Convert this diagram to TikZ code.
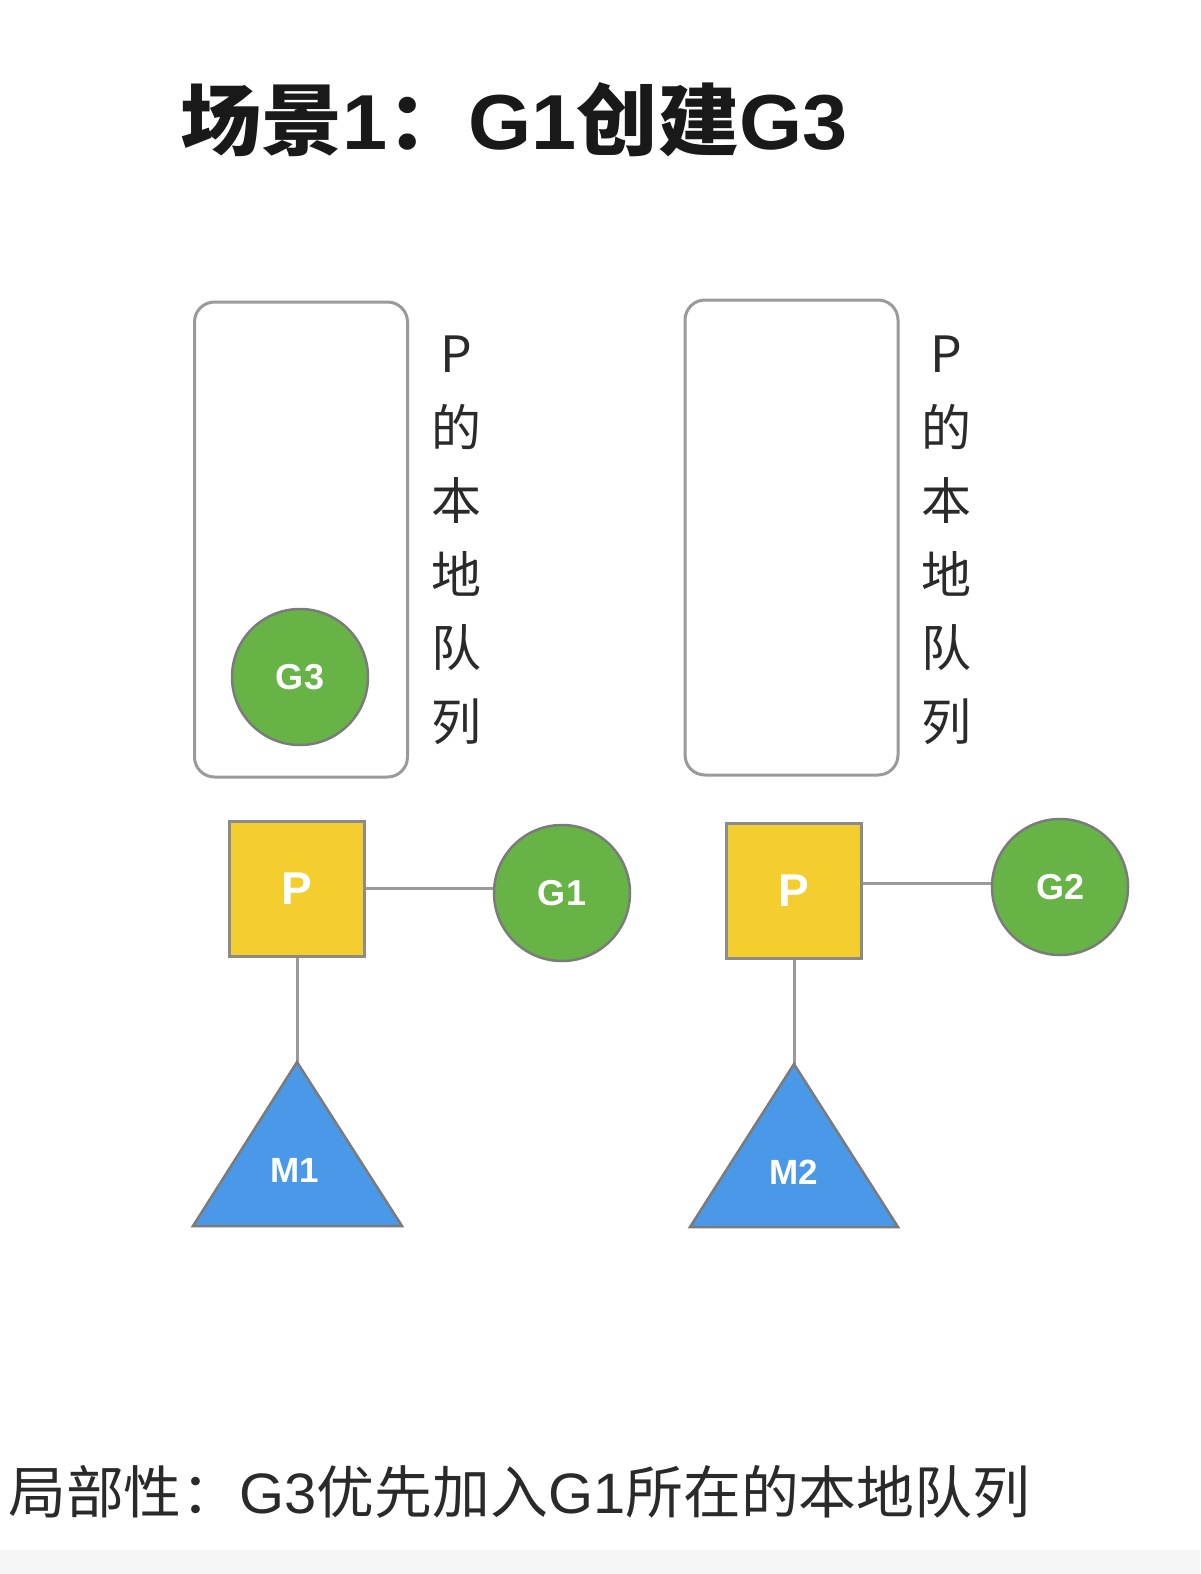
\documentclass[tikz,border=0pt]{standalone}
\usepackage{fontspec}
\setmainfont{Liberation Sans}
\newfontfamily\cjk{Noto Sans CJK SC}
\newfontfamily\cjkwide[FakeStretch=1.04]{Noto Sans CJK SC}
\newfontfamily\latwide[FakeStretch=1.04]{Liberation Sans}
\newfontfamily\cjkcap[FakeStretch=1.015]{Noto Sans CJK SC}
\newfontfamily\latcap[FakeStretch=1.015]{Liberation Sans}
\usetikzlibrary{positioning}
\definecolor{ggreen}{HTML}{67B346}
\definecolor{pyellow}{HTML}{F4CD2F}
\definecolor{mblue}{HTML}{4A98E8}
\definecolor{edgegray}{HTML}{9A9A9A}
\definecolor{txtgray}{HTML}{2A2A2A}
\begin{document}
\begin{tikzpicture}[x=1pt,y=-1pt,
  queuebox/.style={draw=edgegray,line width=3pt,rounded corners=20pt,minimum width=213pt,minimum height=475pt,inner sep=0pt},
  gnode/.style={circle,draw=edgegray!80!black,line width=2.5pt,fill=ggreen,minimum size=136pt,inner sep=0pt,text=white,font=\fontsize{36}{36}\selectfont\bfseries},
  pnode/.style={rectangle,draw=edgegray!90!black,line width=2.5pt,fill=pyellow,minimum size=135pt,inner sep=0pt,text=white,font=\fontsize{46}{46}\selectfont\bfseries},
  mtri/.style={draw=edgegray!80!black,line width=2.5pt,fill=mblue,line join=miter},
  mlabel/.style={text=white,font=\fontsize{35}{35}\selectfont\bfseries,inner sep=0pt},
  link/.style={draw=edgegray,line width=3pt},
  vtext/.style={align=center,text=txtgray,font=\cjk\fontsize{50}{73.5}\selectfont,inner sep=0pt}
]
\fill[white] (0,0) rectangle (1200,1574);
\fill[black!4] (0,1550) rectangle (1200,1574);
\useasboundingbox (0,0) rectangle (1200,1574);

% title
\node[anchor=west,inner sep=0pt,font=\fontsize{78}{78}\selectfont\bfseries,text=black!90] (title) at (180,120) {{\cjkwide 场景}{\latwide 1}{\cjkwide ：}{\latwide G1}{\cjkwide 创建}{\latwide G3}};

% queues
\node[queuebox] (q1) at (301,539.5) {};
\node[queuebox] (q2) at (791.5,537.5) {};
\node[vtext,anchor=north] (v1) at (456,336) {P\\的\\本\\地\\队\\列};
\node[vtext,anchor=north] (v2) at (946,336) {P\\的\\本\\地\\队\\列};

% G3 in local queue
\node[gnode] (g3) at (300,677) {G3};

% left group
\node[pnode] (p1) at (297,889) {P};
\node[gnode] (g1) at (562,893) {G1};
\draw[link] (p1.east |- 0,888) -- (g1.west |- 0,888);
\coordinate (m1top) at (297,1062);
\draw[link] (p1.south) -- (m1top);
\draw[mtri] (m1top) -- (402,1226) -- (193,1226) -- cycle;
\node[mlabel] (m1) at (295,1170) {M1};

% right group
\node[pnode] (p2) at (794,891) {P};
\node[gnode] (g2) at (1060,887) {G2};
\draw[link] (p2.east |- 0,883) -- (g2.west |- 0,883);
\coordinate (m2top) at (794,1064);
\draw[link] (p2.south) -- (m2top);
\draw[mtri] (m2top) -- (898,1227) -- (690,1227) -- cycle;
\node[mlabel] (m2) at (794,1172) {M2};

% caption
\node[anchor=west,inner sep=0pt,text=txtgray,font=\fontsize{57}{57}\selectfont] (caption) at (8,1492) {{\cjkcap 局部性：}{\latcap G3}{\cjkcap 优先加入}{\latcap G1}{\cjkcap 所在的本地队列}};
\end{tikzpicture}
\end{document}
